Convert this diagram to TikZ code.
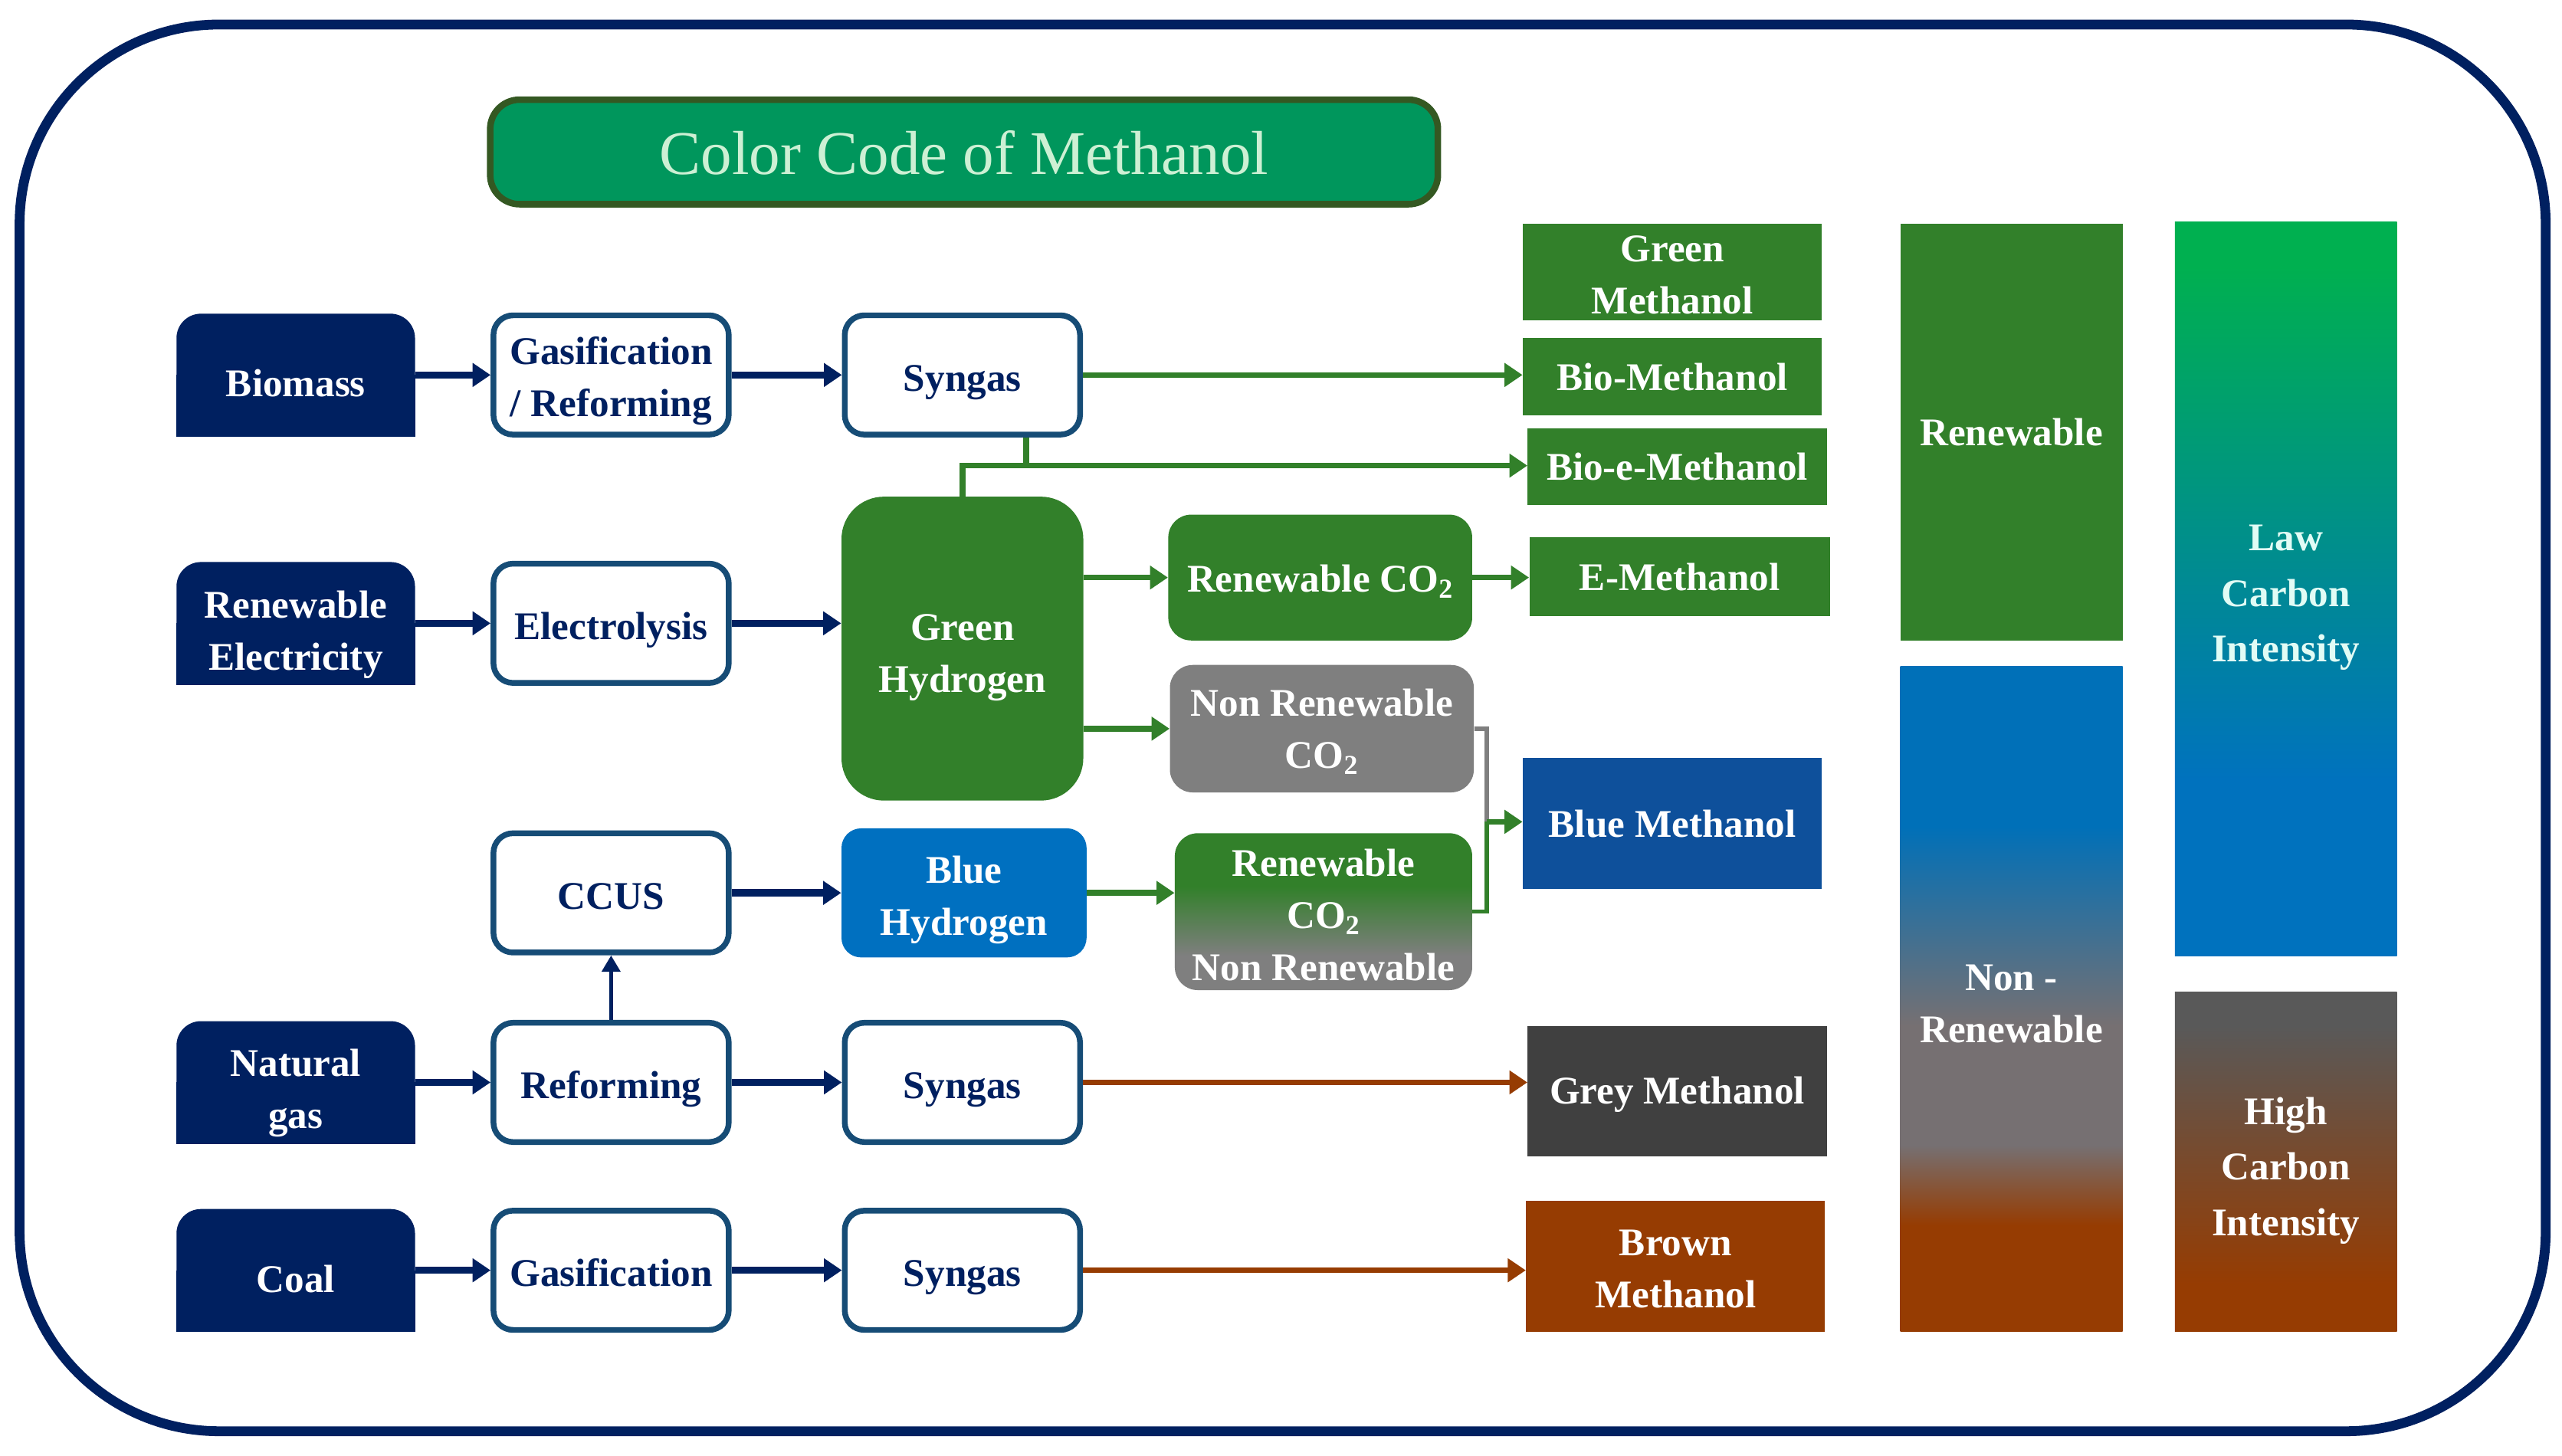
\documentclass[tikz,border=0pt]{standalone}
\usepackage{fontspec}
\setmainfont{Liberation Serif}
\usetikzlibrary{arrows.meta,backgrounds}
\definecolor{cNavy}{RGB}{0,32,96}
\definecolor{cBorder}{RGB}{22,76,118}
\definecolor{cGreen}{RGB}{50,128,42}
\definecolor{cTitle}{RGB}{0,150,92}
\definecolor{cTitleBorder}{RGB}{52,88,34}
\definecolor{cTitleText}{RGB}{205,240,212}
\definecolor{cBlueH}{RGB}{0,112,192}
\definecolor{cBlueM}{RGB}{14,80,155}
\definecolor{cGrey}{RGB}{127,127,127}
\definecolor{cGreyM}{RGB}{64,64,64}
\definecolor{cBrown}{RGB}{150,60,2}
\definecolor{cGreyB}{RGB}{118,112,114}
\definecolor{cBlueN}{RGB}{0,112,184}
\definecolor{cLawGreen}{RGB}{0,176,80}
\definecolor{cLawBlue}{RGB}{0,114,190}
\definecolor{cDarkGrey}{RGB}{89,89,89}
\definecolor{cLawText}{RGB}{225,252,245}
\pgfdeclareverticalshading{nonrenshade}{100bp}{color(0bp)=(cBrown); color(33bp)=(cBrown); color(39bp)=(cGreyB); color(48bp)=(cGreyB); color(63bp)=(cBlueN); color(100bp)=(cBlueN)}
\pgfdeclareverticalshading{lawshade}{100bp}{color(0bp)=(cLawBlue); color(37bp)=(cLawBlue); color(72bp)=(cLawGreen); color(100bp)=(cLawGreen)}
\pgfdeclareverticalshading{rnrshade}{100bp}{color(0bp)=(cGrey); color(36bp)=(cGrey); color(58bp)=(cGreen); color(100bp)=(cGreen)}
\pgfdeclareverticalshading{highshade}{100bp}{color(0bp)=(cBrown); color(32bp)=(cBrown); color(70bp)=(cDarkGrey); color(100bp)=(cDarkGrey)}
\newcommand\mylift[1]{\rule{0pt}{#1}}
\begin{document}
\begin{tikzpicture}[x=1pt,y=-1pt,
  lift/.style={execute at begin node={\rule{0pt}{#1}}},
  base/.style={font=\fontsize{24}{32}\selectfont\bfseries, align=center, inner sep=0pt, text=white},
  srcbox/.style={base, fill=cNavy, rounded corners=15pt, minimum width=146pt, minimum height=75pt},
  procbox/.style={base, draw=cBorder, line width=3.5pt, fill=white, text=cNavy, rounded corners=12pt, minimum width=144pt, minimum height=73pt},
  methbox/.style={base, minimum width=183pt},
  sidebox/.style={base, minimum width=136pt},
  navyarrow/.style={draw=cNavy, line width=4.5pt, -{Triangle[length=11pt,width=14pt]}},
  thinnavyarrow/.style={draw=cNavy, line width=2.5pt, -{Triangle[length=10pt,width=11pt]}},
  greenarrow/.style={draw=cGreen, line width=3.5pt, -{Triangle[length=11pt,width=14pt]}},
  greenline/.style={draw=cGreen, line width=3.5pt},
  brownarrow/.style={draw=cBrown, line width=3.5pt, -{Triangle[length=11pt,width=14pt]}}
]
\useasboundingbox (0,0) rectangle (1568,891);
\draw[cNavy, line width=6pt, rounded corners=122pt] (12,15) rectangle (1558,876);

% title
\node[draw=cTitleBorder, line width=4pt, fill=cTitle, rounded corners=18pt, minimum width=580pt, minimum height=64pt, inner sep=0pt, font=\fontsize{38}{44}\selectfont, text=cTitleText, lift=28pt] (title) at (590,93) {Color Code of Methanol};

% sources
\node[srcbox, lift=27pt] (bio) at (181,229.5) {Biomass};
\node[srcbox] (rel) at (181,381.5) {\mylift{30.5pt}Renewable\\Electricity};
\node[srcbox] (ng) at (181,662.5) {\mylift{30pt}Natural\\gas};
\node[srcbox, lift=27pt] (coal) at (181,777.5) {Coal};
\begin{scope}[on background layer]
  \fill[white] (0,0) rectangle (1568,891);
  \foreach \n in {bio,rel,ng,coal} {\fill[cNavy] (\n.west) rectangle (\n.south east);}
\end{scope}

% processes
\node[procbox] (gr) at (374,229.5) {\mylift{24.5pt}Gasification\\/ Reforming};
\node[procbox, lift=25pt] (el) at (374,381.5) {Electrolysis};
\node[procbox, lift=20pt] (ccus) at (374,546.5) {CCUS};
\node[procbox, lift=25pt] (ref) at (374,662.5) {Reforming};
\node[procbox, lift=20pt] (gas) at (374,777.5) {Gasification};

% column 3
\node[procbox, lift=25pt] (sg1) at (589,229.5) {Syngas};
\node[base, fill=cGreen, rounded corners=26pt, minimum width=148pt, minimum height=186pt] (gh) at (589,397) {\mylift{27pt}Green\\Hydrogen};
\node[base, fill=cBlueH, rounded corners=12pt, minimum width=150pt, minimum height=79pt] (bh) at (590,546.5) {\mylift{25.5pt}Blue\\Hydrogen};
\node[procbox, lift=25pt] (sg2) at (589,662.5) {Syngas};
\node[procbox, lift=25pt] (sg3) at (589,777.5) {Syngas};

% column 4
\node[base, fill=cGreen, rounded corners=14pt, minimum width=186pt, minimum height=77pt, lift=21pt] (rco) at (808,353.5) {Renewable CO\textsubscript{2}};
\node[base, fill=cGrey, rounded corners=14pt, minimum width=186pt, minimum height=78pt] (nrco) at (809,446) {\mylift{20.5pt}Non Renewable\\CO\textsubscript{2}};
\node[base, shade, shading=rnrshade, rounded corners=14pt, minimum width=182pt, minimum height=96pt] (rnr) at (810,558) {\mylift{20.5pt}Renewable\\CO\textsubscript{2}\\Non Renewable};

% methanol column
\node[methbox, fill=cGreen, minimum height=59pt] (gm) at (1023.5,166.5) {\mylift{19.5pt}Green\\Methanol};
\node[methbox, fill=cGreen, minimum height=47pt, lift=17pt] (bm) at (1023.5,230.5) {Bio-Methanol};
\node[methbox, fill=cGreen, minimum height=47pt, lift=17pt] (bem) at (1026.5,285.5) {Bio-e-Methanol};
\node[methbox, fill=cGreen, minimum height=48pt, minimum width=184pt, lift=17pt] (em) at (1028,353) {E-Methanol};
\node[methbox, fill=cBlueM, minimum height=80pt, lift=17pt] (blm) at (1023.5,504) {Blue Methanol};
\node[methbox, fill=cGreyM, minimum height=80pt, lift=20pt] (gym) at (1026.5,668) {Grey Methanol};
\node[methbox, fill=cBrown, minimum height=80pt] (brm) at (1025.5,775) {\mylift{19.5pt}Brown\\Methanol};

% side bars
\node[sidebox, fill=cGreen, minimum height=255pt, lift=17pt] (ren) at (1231,264.5) {Renewable};
\node[sidebox, shade, shading=nonrenshade, minimum height=407pt] (nren) at (1231,611.5) {\mylift{21.5pt}Non -\\Renewable};
\node[sidebox, shade, shading=lawshade, minimum height=449pt, text=cLawText, font=\fontsize{24}{34}\selectfont\bfseries] (law) at (1399,360.5) {\mylift{26.5pt}Law\\Carbon\\Intensity};
\node[sidebox, shade, shading=highshade, minimum height=208pt, font=\fontsize{24}{34}\selectfont\bfseries] (high) at (1399,711) {\mylift{27.5pt}High\\Carbon\\Intensity};

% connectors
\draw[navyarrow] (bio) -- (gr);
\draw[navyarrow] (gr) -- (sg1);
\draw[greenarrow] (sg1.east) -- (sg1.east -| bm.west);
\coordinate (jn) at (589,285);
\draw[greenline] ([xshift=39pt]sg1.south) -- ([xshift=39pt]sg1.south |- jn);
\draw[greenarrow] (gh.north) -- (jn) -- (jn -| bem.west);

\draw[navyarrow] (rel) -- (el);
\draw[navyarrow] (el.east) -- (el.east -| gh.west);
\draw[greenarrow] (gh.east |- rco) -- (rco.west);
\draw[greenarrow] (gh.east |- nrco) -- (nrco.west);
\draw[greenarrow] (rco.east) -- (rco.east -| em.west);

\draw[navyarrow] (ccus) -- (bh);
\draw[greenarrow] (bh.east) -- (bh.east -| rnr.west);
\coordinate (bk) at (910,503);
\draw[draw=cGrey, line width=2.5pt] (nrco.east) -- (nrco.east -| bk) -- (bk);
\draw[draw=cGreen, line width=2.5pt] (rnr.east) -- (rnr.east -| bk) -- (bk);
\draw[greenarrow] (bk) -- (bk -| blm.west);

\draw[thinnavyarrow] (ref) -- (ccus);
\draw[navyarrow] (ng) -- (ref);
\draw[navyarrow] (ref) -- (sg2);
\draw[brownarrow] (sg2.east) -- (sg2.east -| gym.west);

\draw[navyarrow] (coal) -- (gas);
\draw[navyarrow] (gas) -- (sg3);
\draw[brownarrow] (sg3.east) -- (sg3.east -| brm.west);
\end{tikzpicture}
\end{document}
